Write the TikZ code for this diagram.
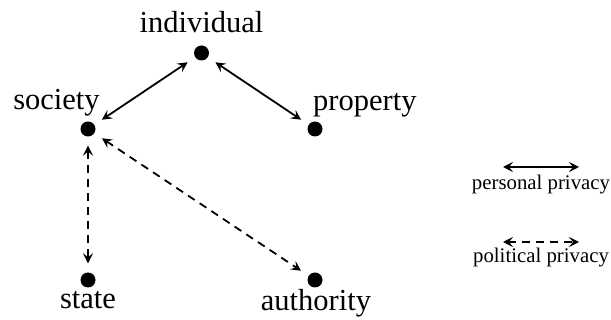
\documentclass[tikz,border=0pt]{standalone}
\usepackage{fontspec}
\setmainfont{Liberation Serif}
\usetikzlibrary{arrows.meta}
\tikzset{
  dot/.style={circle,fill=black,inner sep=0pt,minimum size=15pt},
  lbl/.style={anchor=base,inner sep=0pt,font=\fontsize{30.5}{36}\selectfont},
  leg/.style={anchor=base,inner sep=0pt,font=\fontsize{20.8}{24}\selectfont},
  conn/.style={line width=1.8pt,{Stealth[length=10pt,width=10pt,inset=4pt]}-{Stealth[length=10pt,width=10pt,inset=4pt]},shorten <=9pt,shorten >=9pt},
  pers/.style={conn},
  pol/.style={conn,dash pattern=on 8pt off 6pt},
}
\begin{document}
\begin{tikzpicture}[x=1pt,y=-1pt]
\useasboundingbox (0,0) rectangle (611,320);
\node[dot] (ind) at (201.5,53) {};
\node[dot] (soc) at (88,129) {};
\node[dot] (pro) at (315,129) {};
\node[dot] (sta) at (88,280) {};
\node[dot] (aut) at (315,280) {};
\node[lbl] (tind) at (201.5,33) {individual};
\node[lbl] (tsoc) at (56.5,110) {society};
\node[lbl,anchor=base west] (tpro) at (313,111) {property};
\node[lbl] (tsta) at (88,309) {state};
\node[lbl] (taut) at (316,311) {authority};
\draw[pers] (ind) -- (soc);
\draw[pers] (ind) -- (pro);
\draw[pol] (soc) -- (sta);
\draw[pol] (soc) -- (aut);
\coordinate (a1) at (503,167);
\coordinate (a2) at (579,167);
\coordinate (b1) at (503,242);
\coordinate (b2) at (579,242);
\draw[pers,shorten <=0pt,shorten >=0pt] (a1) -- (a2);
\draw[pol,shorten <=0pt,shorten >=0pt] (b1) -- (b2);
\node[leg] (tpers) at (541,190) {personal privacy};
\node[leg] (tpol) at (541,263) {political privacy};
\end{tikzpicture}
\end{document}
